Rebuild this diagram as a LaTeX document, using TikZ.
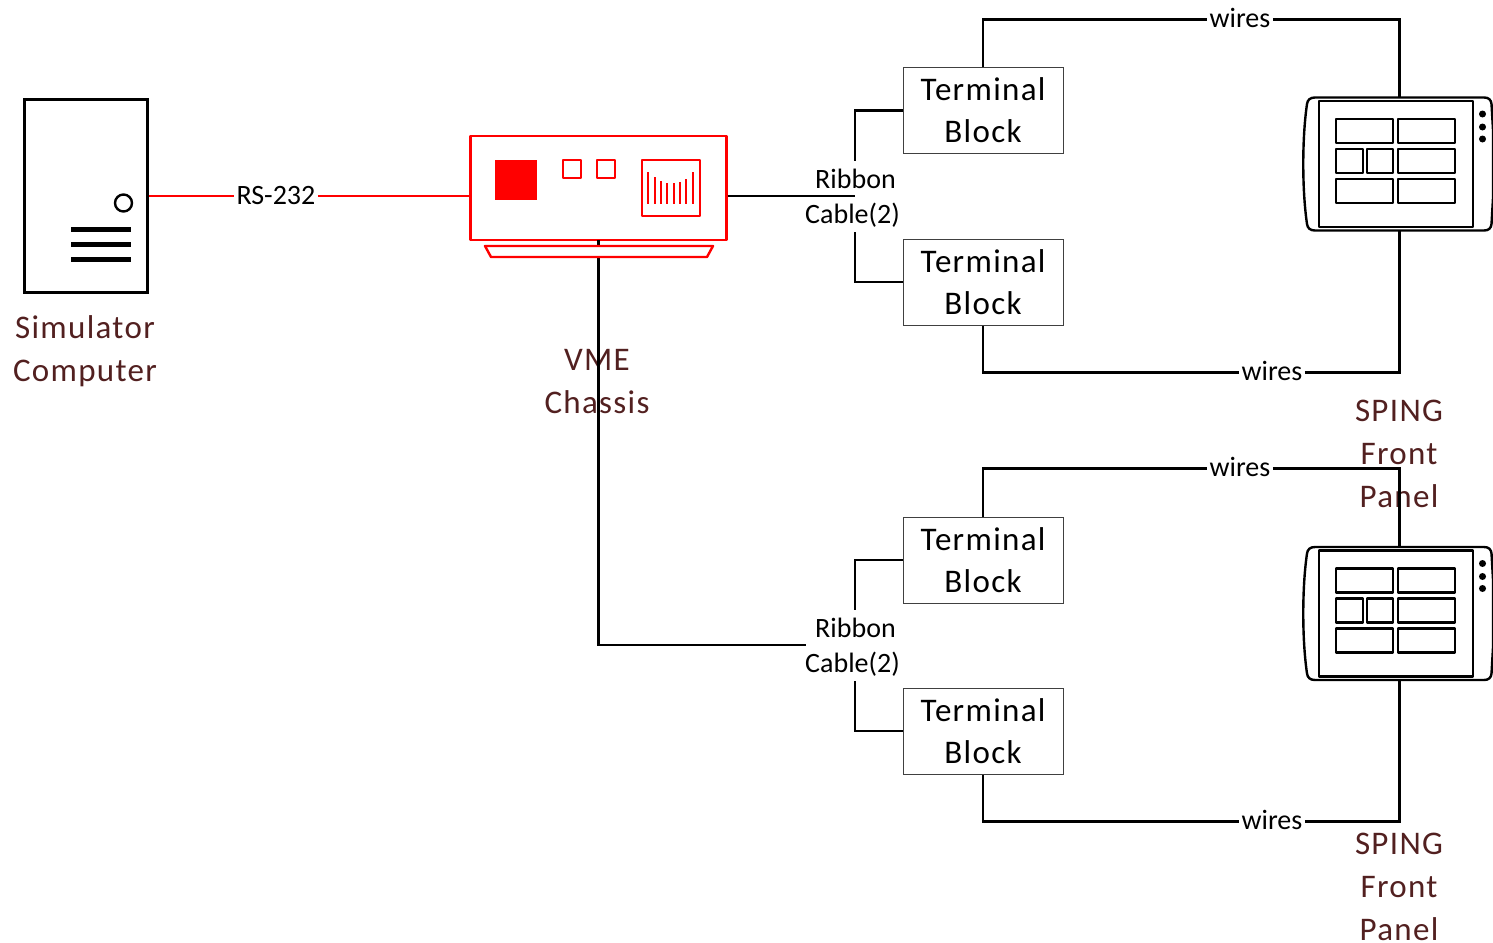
\documentclass[tikz,border=0pt]{standalone}
\usepackage{fontspec}
\setmainfont{Carlito}
\newfontfamily\widefont[LetterSpace=4]{Carlito}
\definecolor{darkred}{RGB}{82,32,32}
\tikzset{
	wirelabel/.style = {fill = white, inner sep = 1pt, font = \fontsize{14}{16}\selectfont},
	wirewords/.style = {wirelabel, text depth = 1.5pt},
	ribbonlabel/.style = {align = center, inner sep = 0pt, font = \fontsize{14}{17.5}\selectfont},
	blockbox/.style = {draw = black!75, line width = 0.5pt, minimum width = 80pt, minimum height = 43pt, inner sep = 0pt, align = center, font = \widefont\fontsize{16.5}{21}\selectfont},
	devicename/.style = {align = center, text = darkred, inner sep = 0pt, font = \widefont\fontsize{16.5}{21.5}\selectfont},
	wire/.style = {line width = 1.2pt},
	rack/.style = {line width = 1.2pt, red, line join = round},
	panelpart/.style = {line width = 1.2pt, line join = round}
}
\newcommand{\spingpanel}[2]{
	\begin{scope}[shift = {(#1,#2)}]
	\draw [panelpart, fill = white] (1315,97.5) -- (1484,97.5) .. controls (1489,97.5) and (1491,100) .. (1491.5,104) -- (1493,130) -- (1493,198) -- (1491.5,224) .. controls (1491,228) and (1489,230.5) .. (1484,230.5) -- (1315,230.5) .. controls (1310,230.5) and (1307.5,228) .. (1307,224) .. controls (1302,190) and (1302,138) .. (1307,104) .. controls (1307.5,100) and (1310,97.5) .. (1315,97.5) -- cycle;
	\draw [panelpart] (1319,101) rectangle (1473,227);
	\draw [panelpart] (1336,119) rectangle (1393,143);
	\draw [panelpart] (1398,119) rectangle (1455,143);
	\draw [panelpart] (1336,149) rectangle (1363,173);
	\draw [panelpart] (1367,149) rectangle (1393,173);
	\draw [panelpart] (1398,149) rectangle (1455,173);
	\draw [panelpart] (1336,179) rectangle (1393,203);
	\draw [panelpart] (1398,179) rectangle (1455,203);
	\foreach \ypos in {114,127,139}
		\fill (1482.5,\ypos) circle (3.5);
	\end{scope}
}
\begin{document}
\begin{tikzpicture}[x = 0.5pt, y = -0.5pt]
	\useasboundingbox (0,0) rectangle (1493,942);
	\node [devicename] (upperpanelname) at (1399,453.5) {SPING\\Front\\Panel};
	\node [devicename] (lowerpanelname) at (1399,886.5) {SPING\\Front\\Panel};
	% upper branch
	\node [blockbox] (upperblocka) at (983,110.5) {Terminal\\Block};
	\node [blockbox] (upperblockb) at (983,282) {Terminal\\Block};
	\node [wirewords] (upperwiresa) at (1240,19.5) {wires};
	\node [wirewords] (upperwiresb) at (1272,372.5) {wires};
	\node [ribbonlabel] (upperribbon) at (852.5,198.5) {\hspace*{3pt}Ribbon\\Cable(2)};
	\coordinate (upperpanelt) at (1399.5,97);
	\coordinate (upperpanelb) at (1399.5,231);
	\coordinate (upperjoint) at (855,196);
	\coordinate (upperjointa) at (855,161);
	\coordinate (upperjointb) at (855,232);
	\draw [wire] (upperblocka.north) |- (upperwiresa);
	\draw [wire] (upperwiresa) -| (upperpanelt);
	\draw [wire] (upperblockb.south) |- (upperwiresb);
	\draw [wire] (upperwiresb) -| (upperpanelb);
	\draw [wire] (upperblocka.west) -| (upperjointa);
	\draw [wire] (upperblockb.west) -| (upperjointb);
	% lower branch
	\node [blockbox] (lowerblocka) at (983,560) {Terminal\\Block};
	\node [blockbox] (lowerblockb) at (983,731) {Terminal\\Block};
	\node [wirewords] (lowerwiresa) at (1240,468.5) {wires};
	\node [wirewords] (lowerwiresb) at (1272,821.5) {wires};
	\node [ribbonlabel] (lowerribbon) at (852.5,647.5) {\hspace*{3pt}Ribbon\\Cable(2)};
	\coordinate (lowerpanelt) at (1399.5,546);
	\coordinate (lowerpanelb) at (1399.5,680);
	\coordinate (lowerjoint) at (806,645);
	\coordinate (lowerjointa) at (855,610);
	\coordinate (lowerjointb) at (855,681);
	\draw [wire] (lowerblocka.north) |- (lowerwiresa);
	\draw [wire] (lowerwiresa) -| (lowerpanelt);
	\draw [wire] (lowerblockb.south) |- (lowerwiresb);
	\draw [wire] (lowerwiresb) -| (lowerpanelb);
	\draw [wire] (lowerblocka.west) -| (lowerjointa);
	\draw [wire] (lowerblockb.west) -| (lowerjointb);
	% panels
	\spingpanel{0}{0}
	\spingpanel{0}{449.5}
	% computer
	\node [draw, line width = 1.2pt, minimum width = 61.5pt, minimum height = 96.5pt, inner sep = 0pt] (computer) at (86,196) {};
	\node [draw, circle, line width = 1.2pt, minimum size = 8.5pt, inner sep = 0pt] (powerbutton) at (123.5,203) {};
	\foreach \ypos in {229,244,259}
		\draw [line width = 2.5pt] (71,\ypos) -- (131,\ypos);
	\node [devicename] (computername) at (85,351) {Simulator\\Computer};
	% chassis
	\node [devicename] (chassisname) at (597,382) {VME\\Chassis};
	\node [draw, rack, fill = white, minimum width = 128pt, minimum height = 52pt, inner sep = 0pt] (chassis) at (598.5,188) {};
	\coordinate (chassisbottom) at (598.5,240);
	\draw [wire] (chassis.east |- upperjoint) -- (upperjoint);
	\draw [wire] (chassisbottom) |- (lowerjoint);
	\draw [rack, fill = white] (485,246) -- (713,246) -- (707,257) -- (491,257) -- cycle;
	\fill [red] (495,160) rectangle (537,200);
	\draw [rack] (563,160) rectangle (581,178);
	\draw [rack] (597,160) rectangle (615,178);
	\draw [rack] (642,160) rectangle (700,216);
	\foreach \xpos/\ytop in {648.3/172,654.7/177,661/181,667.3/183,673.7/183,680/182,686.3/179,692.7/172}
		\draw [red, line width = 1pt] (\xpos,\ytop) -- (\xpos,204);
	% serial line
	\node [wirelabel] (seriallabel) at (276,196) {RS-232};
	\draw [rack] (computer.east |- upperjoint) -- (seriallabel);
	\draw [rack] (seriallabel) -- (chassis.west |- upperjoint);
\end{tikzpicture}
\end{document}
